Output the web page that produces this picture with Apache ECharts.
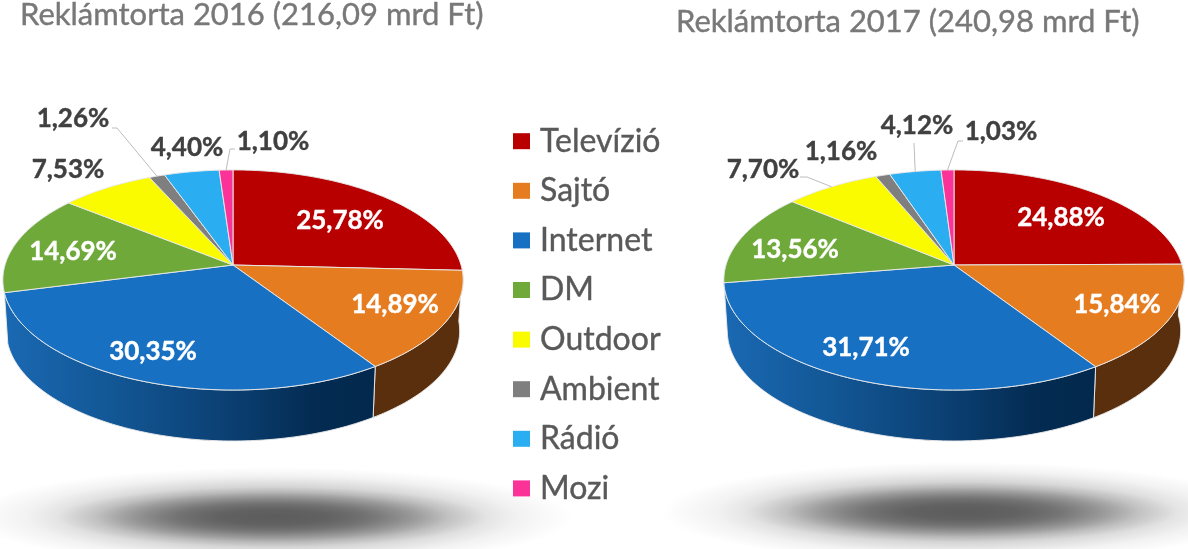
<!DOCTYPE html>
<html><head><meta charset="utf-8">
<style>html,body{margin:0;padding:0;background:#fff}#c{width:1188px;height:549px}</style>
<script src="https://cdn.jsdelivr.net/npm/echarts@6/dist/echarts.min.js"></script>
</head><body><div id="c"></div>
<script>
const categories = ['Televízió','Sajtó','Internet','DM','Outdoor','Ambient','Rádió','Mozi'];
const values2016 = [25.78,14.89,30.35,14.69,7.53,1.26,4.40,1.10];
const values2017 = [24.88,15.84,31.71,13.56,7.70,1.16,4.12,1.03];
const titles = ['Reklámtorta 2016 (216,09 mrd Ft)','Reklámtorta 2017 (240,98 mrd Ft)'];
const colors = ['#b90000','#e67c20','#1870c3','#6ea93a','#fbfb00','#7f7f7f','#2aaef1','#fb3399'];

/* layout only */
const FONT = 'Lato, Carlito, "Open Sans", sans-serif';
const pies = [{cx:233, values:values2016}, {cx:954, values:values2017}];
const geo = {cy:265, A:228, B:108, k:0.136, depth:51, shrink:0.985};
const labelAt = [
  [[340,221],[395,305],[153,352],[73,252],[68,170],[73,119],[187,148],[273,142]],
  [[1061,218],[1117,305],[866,348],[795,250],[763,170],[841,152],[917,126],[1001,132]]
];
const darkLabels = [4,5,6,7];
const leaders = [
  {5:[[112,128],[117,128]], 7:[[235,149],[230,149]]},
  {4:[[800,177],[807,177]], 6:[[914,143],[914,143]], 7:[[963,141],[958,141]]}
];
const wallFills = {
  1: '#5a2f0d',
  2: new echarts.graphic.LinearGradient(0,0,1,0,[
    {offset:0,color:'#1a69b3'},{offset:0.3,color:'#125694'},{offset:0.6,color:'#0b4073'},
    {offset:0.85,color:'#032a50'},{offset:1,color:'#02294d'}])
};

function project(p, deg, bottom){
  const t = deg*Math.PI/180, w = 1+geo.k*Math.cos(t);
  const s = bottom ? geo.shrink : 1;
  return [p.cx + s*geo.A*Math.sin(t)/w, geo.cy - geo.B*Math.cos(t)/w + (bottom?geo.depth:0)];
}
function arc(p, a, b, bottom){
  const pts=[]; const n=Math.max(2,Math.ceil(Math.abs(b-a)));
  for(let i=0;i<=n;i++) pts.push(project(p,a+(b-a)*i/n,bottom));
  return pts;
}
function renderSlice(params, api){
  const pieIdx = params.dataIndex, cat = params.seriesIndex, p = pies[pieIdx];
  const v = api.value(1);
  let before = 0;
  for(let i=0;i<cat;i++) before += p.values[i];
  const a = before*3.6, b = (before+v)*3.6, mid=(a+b)/2;
  const stroke='rgba(232,232,232,0.95)';
  const kids=[];
  if(mid>90 && mid<270){
    const pts = arc(p,a,b,false).concat(arc(p,b,a,true));
    kids.push({type:'polygon',z2:1,shape:{points:pts},style:{fill:wallFills[cat]||colors[cat],stroke,lineWidth:1}});
  }
  kids.push({type:'polygon',z2:10,shape:{points:[[p.cx,geo.cy]].concat(arc(p,a,b,false))},
    style:{fill:colors[cat],stroke,lineWidth:1}});
  const lead = leaders[pieIdx][cat];
  if(lead){
    kids.push({type:'polyline',z2:20,shape:{points:lead.concat([project(p,mid,false)])},
      style:{fill:null,stroke:'#bdbdbd',lineWidth:1}});
  }
  const at = labelAt[pieIdx][cat];
  const dark = darkLabels.includes(cat);
  kids.push({type:'text',z2:30,style:{x:at[0],y:at[1],text:v.toFixed(2).replace('.',',')+'%',
    fill:dark?'#404040':'#ffffff',stroke:dark?'#404040':'#ffffff',lineWidth:0.4,fontFamily:FONT,fontWeight:'bold',fontSize:26,
    align:'center',verticalAlign:'middle'}});
  return {type:'group',children:kids};
}
function softEllipse(x,y,rx,ry,peak,z2){
  const g = a => 'rgba(92,92,92,'+(a*peak).toFixed(3)+')';
  return {type:'circle',x,y,scaleX:rx/100,scaleY:ry/100,z:-10,z2,silent:true,shape:{r:100},
    style:{fill:new echarts.graphic.RadialGradient(0.5,0.5,0.5,[
      {offset:0,color:g(1)},{offset:0.25,color:g(0.93)},{offset:0.45,color:g(0.72)},
      {offset:0.65,color:g(0.4)},{offset:0.82,color:g(0.14)},{offset:1,color:g(0)}])}};
}
function shadow(x,y){
  return [softEllipse(x,y,300,50,0.55,0), softEllipse(x,y,215,30,1,1)];
}
const chart = echarts.init(document.getElementById('c'),null,{renderer:'canvas'});
const heading = {fontFamily:FONT,fontSize:31,fontWeight:'normal',color:'#787878',textBorderColor:'#787878',textBorderWidth:0.4};
chart.setOption({
  animation:false,
  backgroundColor:'#fff',
  title:[
    {text:titles[0],left:20,top:-1,padding:0,textStyle:heading},
    {text:titles[1],left:676,top:6,padding:0,textStyle:heading}
  ],
  legend:{orient:'vertical',left:513,top:125,padding:0,itemWidth:17,itemHeight:16,itemGap:17.2,icon:'rect',
    selectedMode:false,data:categories,
    textStyle:{fontFamily:FONT,fontSize:32,color:'#595959',textBorderColor:'#595959',textBorderWidth:0.4,padding:[0,0,0,5]}},
  graphic:shadow(272,517).concat(shadow(962,512)),
  series:categories.map((name,i)=>({
    type:'custom',name,coordinateSystem:'none',renderItem:renderSlice,
    itemStyle:{color:colors[i]},
    data:[[0,values2016[i]],[1,values2017[i]]]
  }))
});
</script></body></html>
